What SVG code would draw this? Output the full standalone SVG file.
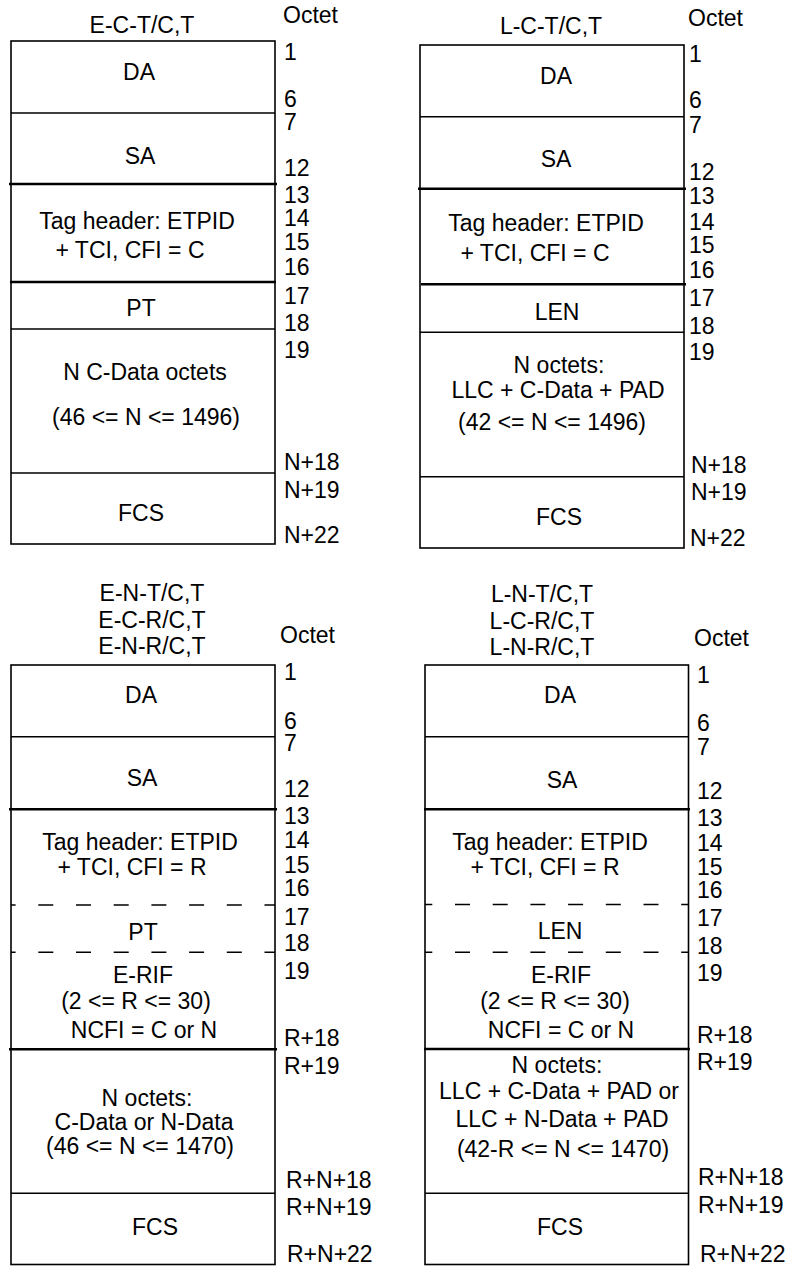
<svg xmlns="http://www.w3.org/2000/svg" width="789" height="1266" viewBox="0 0 789 1266">
<style>
.t{font-family:"Liberation Sans",Arial,Helvetica,sans-serif;font-size:23px;fill:#000}
.c{text-anchor:middle}
.box{fill:none;stroke:#000;stroke-width:1.6}
.thin{stroke:#000;stroke-width:1.6}
.thick{stroke:#000;stroke-width:2.4}
.dash{stroke:#000;stroke-width:1.6;stroke-dasharray:15 22.7}
</style>
<rect width="789" height="1266" fill="#fff"/>

<g id="frame-e-c-t">
<text class="t c" x="142" y="33">E-C-T/C,T</text>
<text class="t" x="283" y="23">Octet</text>
<rect class="box" x="11" y="41" width="264" height="503"/>
<line class="thin" x1="11" y1="113" x2="275" y2="113"/>
<line class="thick" x1="9" y1="184" x2="277" y2="184"/>
<line class="thick" x1="10" y1="282" x2="276" y2="282"/>
<line class="thin" x1="11" y1="329" x2="275" y2="329"/>
<line class="thin" x1="11" y1="473" x2="275" y2="473"/>
<text class="t c" x="139" y="80">DA</text>
<text class="t c" x="140" y="164">SA</text>
<text class="t c" x="137" y="229">Tag header: ETPID</text>
<text class="t c" x="130" y="258">+ TCI, CFI = C</text>
<text class="t c" x="141" y="316">PT</text>
<text class="t c" x="145" y="380">N C-Data octets</text>
<text class="t c" x="146" y="425">(46 &lt;= N &lt;= 1496)</text>
<text class="t c" x="141" y="521">FCS</text>
<text class="t" x="284" y="60">1</text>
<text class="t" x="284" y="107">6</text>
<text class="t" x="284" y="130">7</text>
<text class="t" x="284" y="176">12</text>
<text class="t" x="284" y="203">13</text>
<text class="t" x="284" y="226">14</text>
<text class="t" x="284" y="250">15</text>
<text class="t" x="284" y="275">16</text>
<text class="t" x="284" y="304">17</text>
<text class="t" x="284" y="331">18</text>
<text class="t" x="284" y="358">19</text>
<text class="t" x="284" y="470">N+18</text>
<text class="t" x="284" y="498">N+19</text>
<text class="t" x="284" y="543">N+22</text>
</g>

<g id="frame-l-c-t">
<text class="t c" x="551" y="34">L-C-T/C,T</text>
<text class="t" x="688" y="26">Octet</text>
<rect class="box" x="420" y="45" width="264" height="503"/>
<line class="thin" x1="420" y1="116.7" x2="684" y2="116.7"/>
<line class="thick" x1="418" y1="188.7" x2="686" y2="188.7"/>
<line class="thick" x1="421" y1="284.3" x2="686" y2="284.3"/>
<line class="thin" x1="420" y1="332.3" x2="684" y2="332.3"/>
<line class="thin" x1="420" y1="476.7" x2="684" y2="476.7"/>
<text class="t c" x="556" y="84">DA</text>
<text class="t c" x="556" y="167">SA</text>
<text class="t c" x="546" y="231">Tag header: ETPID</text>
<text class="t c" x="535" y="261">+ TCI, CFI = C</text>
<text class="t c" x="557" y="320">LEN</text>
<text class="t c" x="559" y="373">N octets:</text>
<text class="t c" x="558" y="398">LLC + C-Data + PAD</text>
<text class="t c" x="552" y="430">(42 &lt;= N &lt;= 1496)</text>
<text class="t c" x="559" y="525">FCS</text>
<text class="t" x="689" y="62">1</text>
<text class="t" x="689" y="108">6</text>
<text class="t" x="689" y="133">7</text>
<text class="t" x="689" y="180">12</text>
<text class="t" x="689" y="204">13</text>
<text class="t" x="689" y="230">14</text>
<text class="t" x="689" y="253">15</text>
<text class="t" x="689" y="278">16</text>
<text class="t" x="689" y="306">17</text>
<text class="t" x="689" y="334">18</text>
<text class="t" x="689" y="360">19</text>
<text class="t" x="691" y="473">N+18</text>
<text class="t" x="691" y="500">N+19</text>
<text class="t" x="690" y="546">N+22</text>
</g>

<g id="frame-e-r">
<text class="t c" x="152" y="601">E-N-T/C,T</text>
<text class="t c" x="152" y="628">E-C-R/C,T</text>
<text class="t c" x="152" y="654">E-N-R/C,T</text>
<text class="t" x="280" y="643">Octet</text>
<rect class="box" x="11" y="665" width="264" height="599.5"/>
<line class="thin" x1="11" y1="736.7" x2="275" y2="736.7"/>
<line class="thick" x1="9" y1="809.3" x2="277" y2="809.3"/>
<line class="dash" x1="11" y1="905" x2="275" y2="905" stroke-dashoffset="10.4"/>
<line class="dash" x1="11" y1="952.3" x2="275" y2="952.3" stroke-dashoffset="10.4"/>
<line class="thick" x1="9" y1="1049.3" x2="277" y2="1049.3"/>
<line class="thin" x1="11" y1="1193.3" x2="275" y2="1193.3"/>
<text class="t c" x="141" y="703">DA</text>
<text class="t c" x="142" y="786">SA</text>
<text class="t c" x="140" y="850">Tag header: ETPID</text>
<text class="t c" x="132" y="875">+ TCI, CFI = R</text>
<text class="t c" x="143" y="940">PT</text>
<text class="t c" x="143" y="983">E-RIF</text>
<text class="t c" x="136" y="1009">(2 &lt;= R &lt;= 30)</text>
<text class="t c" x="144" y="1038">NCFI = C or N</text>
<text class="t c" x="147" y="1106">N octets:</text>
<text class="t c" x="144" y="1130">C-Data or N-Data</text>
<text class="t c" x="140" y="1154">(46 &lt;= N &lt;= 1470)</text>
<text class="t c" x="155" y="1235">FCS</text>
<text class="t" x="284" y="680">1</text>
<text class="t" x="284" y="729">6</text>
<text class="t" x="284" y="751">7</text>
<text class="t" x="284" y="797">12</text>
<text class="t" x="284" y="824">13</text>
<text class="t" x="284" y="848">14</text>
<text class="t" x="284" y="873">15</text>
<text class="t" x="284" y="896">16</text>
<text class="t" x="284" y="925">17</text>
<text class="t" x="284" y="951">18</text>
<text class="t" x="284" y="979">19</text>
<text class="t" x="284" y="1046">R+18</text>
<text class="t" x="284" y="1074">R+19</text>
<text class="t" x="286" y="1188">R+N+18</text>
<text class="t" x="286" y="1215">R+N+19</text>
<text class="t" x="287" y="1262">R+N+22</text>
</g>

<g id="frame-l-r">
<text class="t c" x="542" y="602">L-N-T/C,T</text>
<text class="t c" x="542" y="629">L-C-R/C,T</text>
<text class="t c" x="542" y="655">L-N-R/C,T</text>
<text class="t" x="694" y="646">Octet</text>
<rect class="box" x="425" y="665" width="263.5" height="599.5"/>
<line class="thin" x1="425" y1="736.7" x2="688.5" y2="736.7"/>
<line class="thick" x1="424" y1="809.3" x2="690" y2="809.3"/>
<line class="dash" x1="425" y1="904.5" x2="688.5" y2="904.5" stroke-dashoffset="7.7"/>
<line class="dash" x1="425" y1="952.3" x2="688.5" y2="952.3" stroke-dashoffset="7.7"/>
<line class="thick" x1="424" y1="1049" x2="690" y2="1049"/>
<line class="thin" x1="425" y1="1193.3" x2="688.5" y2="1193.3"/>
<text class="t c" x="560" y="703">DA</text>
<text class="t c" x="562" y="788">SA</text>
<text class="t c" x="550" y="850">Tag header: ETPID</text>
<text class="t c" x="545" y="875">+ TCI, CFI = R</text>
<text class="t c" x="560" y="939">LEN</text>
<text class="t c" x="561" y="983">E-RIF</text>
<text class="t c" x="555" y="1009">(2 &lt;= R &lt;= 30)</text>
<text class="t c" x="561" y="1038">NCFI = C or N</text>
<text class="t c" x="557" y="1073">N octets:</text>
<text class="t c" x="559" y="1099">LLC + C-Data + PAD or</text>
<text class="t c" x="562" y="1127">LLC + N-Data + PAD</text>
<text class="t c" x="563" y="1157">(42-R &lt;= N &lt;= 1470)</text>
<text class="t c" x="560" y="1235">FCS</text>
<text class="t" x="697" y="683">1</text>
<text class="t" x="697" y="731">6</text>
<text class="t" x="697" y="755">7</text>
<text class="t" x="697" y="799">12</text>
<text class="t" x="697" y="826">13</text>
<text class="t" x="697" y="851">14</text>
<text class="t" x="697" y="875">15</text>
<text class="t" x="697" y="898">16</text>
<text class="t" x="697" y="926">17</text>
<text class="t" x="697" y="954">18</text>
<text class="t" x="697" y="981">19</text>
<text class="t" x="697" y="1043">R+18</text>
<text class="t" x="697" y="1070">R+19</text>
<text class="t" x="698" y="1185">R+N+18</text>
<text class="t" x="698" y="1213">R+N+19</text>
<text class="t" x="700" y="1262">R+N+22</text>
</g>
</svg>
